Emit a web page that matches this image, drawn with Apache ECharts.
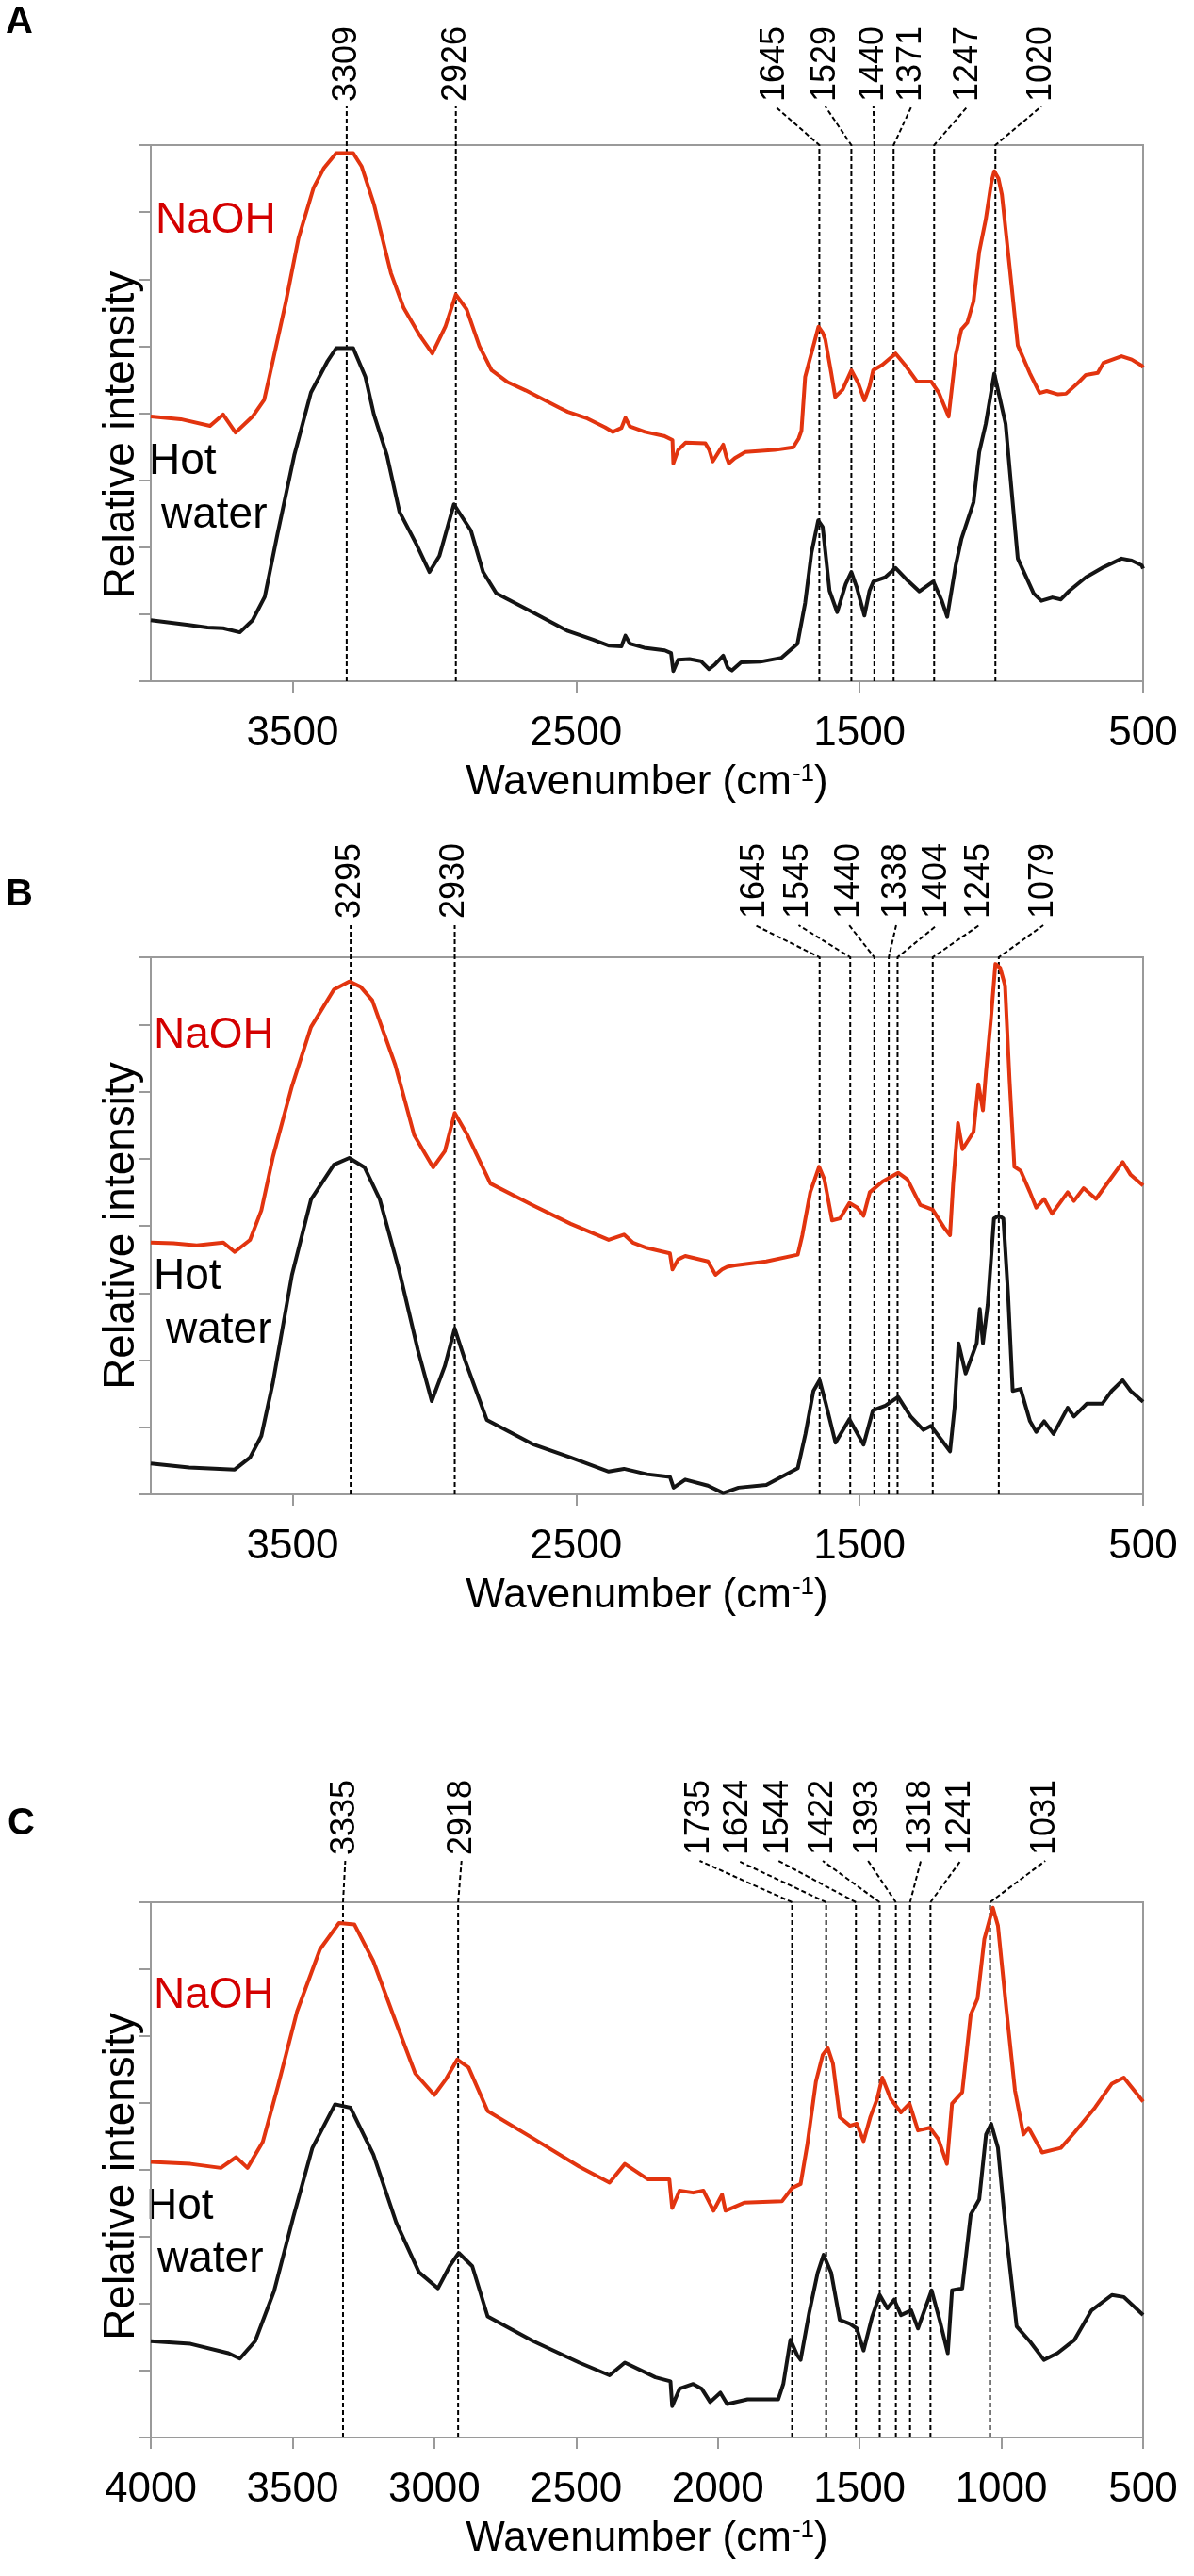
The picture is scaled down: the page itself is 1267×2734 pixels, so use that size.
<!DOCTYPE html>
<html>
<head>
<meta charset="utf-8">
<title>FTIR spectra</title>
<script src="https://cdn.jsdelivr.net/npm/echarts@6/dist/echarts.min.js"></script>
<style>
* { margin: 0; padding: 0; }
body { background: #ffffff; }
#main { width: 1267px; height: 2734px; }
</style>
</head>
<body>
<div id="main"></div>
<script>
// spectra: [wavenumber, relative intensity]
// (y in tick units, 0..8, hot water curve sits below the NaOH curve)
let naohA = [[4000,3.95],[3894,3.91],[3791,3.81],[3745,3.98],[3701,3.71],[3641,3.95],[3600,4.2],[3582,4.54],[3523,5.67],[3479,6.61],[3426,7.36],[3389,7.66],[3346,7.88],[3286,7.88],[3256,7.68],[3213,7.12],[3153,6.09],[3108,5.57],[3050,5.15],[3007,4.89],[2961,5.29],[2924,5.77],[2886,5.55],[2841,5.0],[2798,4.64],[2740,4.46],[2678,4.34],[2559,4.08],[2529,4.02],[2460,3.92],[2398,3.79],[2370,3.72],[2340,3.78],[2326,3.93],[2310,3.8],[2257,3.72],[2190,3.66],[2160,3.6],[2157,3.25],[2140,3.45],[2114,3.56],[2044,3.55],[2030,3.45],[2018,3.28],[2000,3.4],[1981,3.53],[1970,3.35],[1961,3.25],[1940,3.33],[1903,3.42],[1800,3.45],[1734,3.49],[1715,3.62],[1705,3.74],[1692,4.54],[1677,4.78],[1660,5.05],[1645,5.29],[1630,5.2],[1621,5.1],[1600,4.6],[1586,4.24],[1560,4.35],[1529,4.64],[1505,4.45],[1483,4.19],[1465,4.4],[1452,4.64],[1420,4.72],[1373,4.89],[1340,4.72],[1297,4.47],[1247,4.47],[1220,4.3],[1186,3.95],[1161,4.87],[1141,5.25],[1120,5.35],[1098,5.67],[1078,6.41],[1055,6.89],[1035,7.45],[1025,7.61],[1010,7.5],[998,7.26],[971,6.19],[942,5.01],[900,4.6],[865,4.3],[840,4.33],[800,4.28],[772,4.29],[730,4.45],[702,4.57],[660,4.6],[640,4.75],[576,4.85],[540,4.8],[505,4.71],[500,4.68]];
let waterA = [[4000,0.91],[3940,0.88],[3867,0.84],[3800,0.8],[3745,0.79],[3686,0.73],[3641,0.91],[3598,1.26],[3553,2.2],[3494,3.37],[3435,4.31],[3376,4.78],[3346,4.97],[3286,4.97],[3243,4.54],[3213,3.98],[3167,3.37],[3123,2.53],[3064,2.05],[3017,1.63],[2982,1.87],[2931,2.64],[2871,2.25],[2828,1.63],[2781,1.31],[2663,1.05],[2529,0.75],[2440,0.62],[2383,0.53],[2340,0.52],[2326,0.68],[2310,0.56],[2260,0.5],[2187,0.46],[2165,0.42],[2157,0.15],[2140,0.32],[2100,0.33],[2060,0.3],[2031,0.18],[2010,0.25],[1981,0.38],[1965,0.2],[1950,0.16],[1918,0.28],[1850,0.29],[1775,0.35],[1719,0.56],[1692,1.17],[1670,1.91],[1646,2.4],[1630,2.3],[1606,1.35],[1579,1.03],[1549,1.45],[1529,1.63],[1510,1.4],[1483,0.98],[1465,1.35],[1451,1.49],[1410,1.55],[1373,1.69],[1330,1.5],[1289,1.34],[1240,1.49],[1210,1.2],[1191,0.96],[1161,1.73],[1141,2.12],[1098,2.67],[1078,3.42],[1055,3.84],[1025,4.59],[985,3.84],[965,2.9],[942,1.83],[886,1.31],[859,1.2],[820,1.25],[790,1.22],[760,1.35],[702,1.55],[640,1.7],[576,1.83],[540,1.8],[505,1.73],[500,1.68]];

let naohB = [[4000,3.75],[3920,3.74],[3838,3.71],[3744,3.75],[3704,3.61],[3650,3.79],[3610,4.23],[3569,5.03],[3502,6.08],[3435,6.96],[3354,7.52],[3300,7.64],[3260,7.56],[3219,7.36],[3138,6.4],[3071,5.35],[3004,4.87],[2963,5.11],[2928,5.68],[2883,5.35],[2802,4.63],[2654,4.31],[2519,4.03],[2385,3.79],[2331,3.87],[2300,3.75],[2250,3.67],[2169,3.59],[2160,3.35],[2140,3.5],[2115,3.55],[2035,3.47],[2008,3.27],[1985,3.35],[1967,3.39],[1940,3.41],[1829,3.47],[1718,3.57],[1702,3.86],[1674,4.5],[1643,4.88],[1624,4.69],[1597,4.08],[1569,4.11],[1536,4.34],[1508,4.27],[1486,4.15],[1464,4.5],[1419,4.66],[1364,4.79],[1331,4.69],[1286,4.31],[1242,4.24],[1203,3.98],[1181,3.86],[1170,4.63],[1153,5.53],[1137,5.14],[1098,5.4],[1081,6.11],[1065,5.72],[1054,6.3],[1037,7.07],[1021,7.9],[1004,7.84],[987,7.58],[971,6.17],[954,4.88],[932,4.82],[899,4.5],[877,4.27],[849,4.4],[821,4.18],[766,4.5],[744,4.37],[710,4.56],[666,4.4],[622,4.66],[572,4.95],[544,4.76],[500,4.6]];
let waterB = [[4000,0.46],[3865,0.4],[3704,0.37],[3650,0.55],[3610,0.87],[3569,1.67],[3502,3.27],[3435,4.39],[3354,4.91],[3300,5.01],[3246,4.87],[3192,4.39],[3125,3.35],[3058,2.15],[3009,1.39],[2963,1.91],[2928,2.47],[2891,1.99],[2815,1.11],[2654,0.75],[2519,0.55],[2385,0.34],[2331,0.38],[2250,0.3],[2169,0.26],[2156,0.1],[2115,0.22],[2035,0.13],[1981,0.02],[1927,0.1],[1829,0.14],[1718,0.39],[1691,0.9],[1663,1.54],[1641,1.7],[1619,1.35],[1585,0.77],[1536,1.12],[1486,0.74],[1453,1.25],[1409,1.32],[1364,1.45],[1320,1.16],[1275,0.96],[1248,1.02],[1209,0.8],[1181,0.64],[1165,1.29],[1151,2.25],[1126,1.8],[1087,2.25],[1076,2.76],[1065,2.25],[1048,2.83],[1026,4.11],[1009,4.15],[993,4.11],[976,2.96],[960,1.54],[932,1.57],[899,1.09],[877,0.93],[849,1.09],[816,0.9],[766,1.29],[744,1.16],[699,1.35],[644,1.35],[611,1.54],[572,1.7],[544,1.54],[500,1.38]];

let naohC = [[4000,4.12],[3860,4.09],[3753,4.03],[3699,4.19],[3659,4.03],[3605,4.42],[3551,5.26],[3484,6.37],[3403,7.3],[3336,7.69],[3282,7.67],[3215,7.12],[3134,6.19],[3067,5.44],[3000,5.12],[2960,5.35],[2919,5.65],[2879,5.53],[2812,4.88],[2651,4.47],[2489,4.05],[2382,3.81],[2328,4.09],[2247,3.86],[2171,3.86],[2161,3.43],[2135,3.69],[2087,3.66],[2051,3.69],[2015,3.39],[1985,3.63],[1973,3.39],[1907,3.51],[1774,3.53],[1738,3.73],[1708,3.79],[1684,4.39],[1654,5.32],[1630,5.72],[1612,5.82],[1594,5.59],[1570,4.79],[1534,4.66],[1510,4.69],[1486,4.43],[1462,4.79],[1438,5.06],[1420,5.38],[1390,5.06],[1354,4.86],[1324,4.99],[1294,4.59],[1252,4.63],[1222,4.46],[1192,4.09],[1174,4.99],[1138,5.16],[1108,6.32],[1084,6.56],[1060,7.45],[1030,7.92],[1012,7.65],[982,6.39],[952,5.19],[922,4.53],[904,4.63],[856,4.26],[790,4.33],[742,4.56],[670,4.93],[610,5.29],[568,5.38],[532,5.19],[500,5.02]];
let waterC = [[4000,1.44],[3860,1.4],[3726,1.26],[3686,1.18],[3632,1.44],[3565,2.19],[3497,3.3],[3430,4.33],[3350,4.98],[3296,4.93],[3215,4.23],[3134,3.21],[3054,2.47],[2987,2.23],[2946,2.56],[2914,2.76],[2866,2.56],[2812,1.81],[2651,1.44],[2489,1.12],[2382,0.93],[2328,1.12],[2220,0.9],[2167,0.84],[2161,0.47],[2135,0.73],[2087,0.8],[2057,0.73],[2027,0.53],[1991,0.67],[1967,0.5],[1895,0.57],[1787,0.57],[1769,0.8],[1744,1.46],[1720,1.23],[1708,1.16],[1678,1.86],[1648,2.46],[1627,2.73],[1600,2.46],[1570,1.76],[1534,1.7],[1510,1.63],[1486,1.3],[1456,1.8],[1429,2.13],[1402,1.93],[1378,2.06],[1354,1.83],[1318,1.9],[1294,1.63],[1246,2.2],[1216,1.73],[1189,1.26],[1174,2.2],[1138,2.23],[1108,3.33],[1078,3.56],[1054,4.53],[1036,4.69],[1012,4.33],[982,3.0],[946,1.66],[898,1.43],[850,1.16],[802,1.26],[742,1.46],[682,1.9],[610,2.13],[568,2.1],[500,1.83]];

// band markers: where the dashed line is drawn, and its label
let markAtA = [3309, 2924, 1642, 1529, 1448, 1380, 1237, 1021];
let markTextA = ['3309', '2926', '1645', '1529', '1440', '1371', '1247', '1020'];
let markAtB = [3295, 2928, 1641, 1533, 1448, 1397, 1366, 1242, 1009];
let markTextB = ['3295', '2930', '1645', '1545', '1440', '1338', '1404', '1245', '1079'];
let markAtC = [3322, 2916, 1738, 1618, 1513, 1429, 1372, 1322, 1250, 1040];
let markTextC = ['3335', '2918', '1735', '1624', '1544', '1422', '1393', '1318', '1241', '1031'];

let tickA = [3500, 2500, 1500, 500];
let tickC = [4000, 3500, 3000, 2500, 2000, 1500, 1000, 500];

// layout only: where each fanned label sits along the x axis
let labelAtA = [3309, 2924, 1798, 1621, 1451, 1317, 1119, 859];
let labelAtB = [3295, 2928, 1869, 1715, 1537, 1371, 1227, 1078, 852];
let labelAtC = [3314, 2904, 2064, 1928, 1786, 1630, 1470, 1284, 1144, 845];

const FONT = '"Liberation Sans", Arial, Helvetica, sans-serif';
const RED = '#e2340f';
const BLACK = '#141414';
const GRAY = '#9a9a9a';

let myChart = echarts.init(document.getElementById('main'), null, { renderer: 'canvas' });

function makeX(i, ticks) {
  return {
    gridIndex: i, type: 'value', inverse: true, min: 500, max: 4000,
    axisLine: { show: true, onZero: false, lineStyle: { color: GRAY, width: 2 } },
    axisTick: { show: true, customValues: ticks, length: 12, lineStyle: { color: GRAY, width: 2 } },
    axisLabel: {
      show: true, customValues: ticks, margin: 34, fontSize: 44, color: '#000', fontFamily: FONT,
      formatter: function (v) { return String(v); }
    },
    splitLine: { show: false },
    name: 'Wavenumber (cm{sup|-1})',
    nameLocation: 'middle', nameGap: 86,
    nameTextStyle: {
      fontSize: 44, color: '#000', fontFamily: FONT,
      rich: { sup: { fontSize: 26, color: '#000', fontFamily: FONT, verticalAlign: 'top', padding: [0, 0, 0, 1] } }
    }
  };
}

// shift moves the rotated title down along the axis (px)
function makeY(i, shift) {
  return {
    gridIndex: i, type: 'value', min: 0, max: 8, interval: 1,
    axisLine: { show: true, lineStyle: { color: GRAY, width: 2 } },
    axisTick: { show: true, length: 12, lineStyle: { color: GRAY, width: 2 } },
    axisLabel: { show: false },
    splitLine: { show: false },
    name: 'Relative intensity', nameLocation: 'middle', nameGap: 8,
    nameTextStyle: { fontSize: 46, color: '#000', fontFamily: FONT, padding: [0, shift * 2, 0, 0] }
  };
}

function makeLine(i, name, data, color) {
  return {
    type: 'line', name: name, xAxisIndex: i, yAxisIndex: i,
    data: data, showSymbol: false, symbol: 'none', smooth: false,
    z: 3, lineStyle: { color: color, width: 4, join: 'round' }
  };
}

// dashed band lines with their rotated labels, drawn through the axis scales
function makeMarks(i, at, texts, labelAt, rise, gap) {
  let data = at.map(function (v, k) { return [v, labelAt[k]]; });
  return {
    type: 'custom', xAxisIndex: i, yAxisIndex: i, clip: false, silent: true, z: 2,
    data: data,
    renderItem: function (params, api) {
      let bottom = api.coord([api.value(0), 0]);
      let top = api.coord([api.value(0), 8]);
      let lx = api.coord([api.value(1), 8])[0];
      let ty = top[1] - rise;
      return {
        type: 'group',
        children: [{
          type: 'polyline',
          shape: { points: [bottom, top, [lx, ty]] },
          style: { stroke: '#000', fill: null, lineWidth: 2, lineDash: [5, 3] }
        }, {
          type: 'text',
          x: lx, y: ty - gap, rotation: Math.PI / 2,
          style: { text: texts[params.dataIndex], fill: '#000', font: '36px ' + FONT, align: 'left', verticalAlign: 'middle' }
        }]
      };
    }
  };
}

function label(x, y, text, color, size, bold) {
  return {
    type: 'text', x: x, y: y, silent: true,
    style: { text: text, fill: color, font: (bold ? 'bold ' : '') + size + 'px ' + FONT, align: 'left', verticalAlign: 'middle' }
  };
}

let grids = [
  { left: 160, top: 154, width: 1053, height: 569 },
  { left: 160, top: 1016, width: 1053, height: 570 },
  { left: 160, top: 2019, width: 1053, height: 568 }
].map(function (g) {
  return Object.assign({ show: true, borderColor: GRAY, borderWidth: 2, backgroundColor: 'transparent', containLabel: false }, g);
});

let option = {
  backgroundColor: '#ffffff',
  animation: false,
  grid: grids,
  xAxis: [makeX(0, tickA), makeX(1, tickA), makeX(2, tickC)],
  yAxis: [makeY(0, 23), makeY(1, 0), makeY(2, 7)],
  series: [
    makeMarks(0, markAtA, markTextA, labelAtA, 41, 5),
    makeMarks(1, markAtB, markTextB, labelAtB, 34, 7),
    makeMarks(2, markAtC, markTextC, labelAtC, 44, 6),
    makeLine(0, 'NaOH', naohA, RED),
    makeLine(0, 'Hot water', waterA, BLACK),
    makeLine(1, 'NaOH', naohB, RED),
    makeLine(1, 'Hot water', waterB, BLACK),
    makeLine(2, 'NaOH', naohC, RED),
    makeLine(2, 'Hot water', waterC, BLACK)
  ],
  graphic: [
    label(6, 24, 'A', '#000', 40, true),
    label(6, 950, 'B', '#000', 40, true),
    label(8, 1936, 'C', '#000', 40, true),
    label(165, 234, 'NaOH', '#d40000', 46),
    label(163, 1099, 'NaOH', '#d40000', 46),
    label(163, 2118, 'NaOH', '#d40000', 46),
    label(158, 490, 'Hot', '#000', 46),
    label(171, 547, 'water', '#000', 46),
    label(163, 1355, 'Hot', '#000', 46),
    label(176, 1412, 'water', '#000', 46),
    label(155, 2342, 'Hot', '#000', 46),
    label(167, 2398, 'water', '#000', 46)
  ]
};

myChart.setOption(option);
</script>
</body>
</html>
